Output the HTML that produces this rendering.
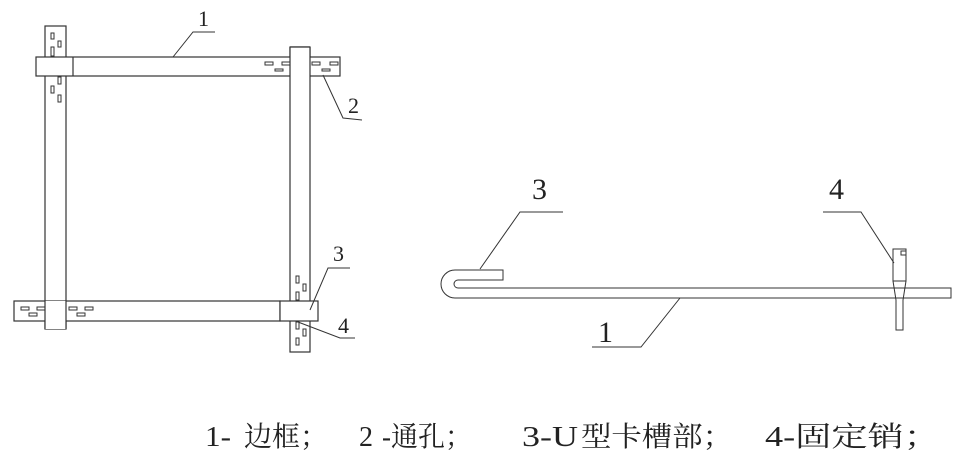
<!DOCTYPE html>
<html><head><meta charset="utf-8"><style>
html,body{margin:0;padding:0;background:#fff;width:969px;height:460px;overflow:hidden}
svg{display:block}
</style></head><body>
<svg width="969" height="460" viewBox="0 0 969 460" xmlns="http://www.w3.org/2000/svg">
<g fill="#fff" stroke="#333" stroke-width="1.2">
<rect x="45" y="26" width="21" height="303"/>
<rect x="36" y="57" width="304" height="19"/>
<line x1="73" y1="57" x2="73" y2="76"/>
<rect x="290" y="47" width="20" height="305"/>
<rect x="14" y="301" width="266" height="20"/>
<rect x="45" y="301" width="21" height="28" stroke="none"/>
<line x1="45" y1="301" x2="45" y2="329"/><line x1="66" y1="301" x2="66" y2="329"/>
<rect x="280" y="301" width="38" height="20"/>
<rect x="290" y="47" width="20" height="10" stroke="none"/>
<line x1="290" y1="47" x2="290" y2="57"/><line x1="310" y1="47" x2="310" y2="57"/>
<line x1="290" y1="47" x2="310" y2="47"/>
</g>
<g fill="none" stroke="#333" stroke-width="1">
<rect x="51" y="33" width="3" height="6"/><rect x="58" y="41" width="3" height="6"/><rect x="51" y="47" width="3" height="9"/>
<rect x="58" y="77" width="3" height="7"/><rect x="51" y="86" width="3" height="7"/><rect x="58" y="95" width="3" height="7"/>
<rect x="265" y="62" width="8" height="3"/><rect x="282" y="62" width="8" height="3"/><rect x="275" y="69" width="8" height="2"/>
<rect x="312" y="62" width="8" height="3"/><rect x="330" y="62" width="8" height="3"/><rect x="322" y="69" width="8" height="2"/>
<rect x="21" y="307" width="8" height="3"/><rect x="37" y="307" width="8" height="3"/><rect x="29" y="313" width="8" height="3"/>
<rect x="69" y="307" width="8" height="3"/><rect x="85" y="307" width="8" height="3"/><rect x="77" y="313" width="8" height="3"/>
<rect x="296" y="276" width="3" height="7"/><rect x="303" y="284" width="3" height="7"/><rect x="296" y="292" width="3" height="8"/>
<rect x="296" y="322" width="3" height="7"/><rect x="303" y="329" width="3" height="7"/><rect x="296" y="338" width="3" height="7"/>
<polyline points="173,57 193,32 215,32"/>
<polyline points="323,75 343,118 362,120"/>
<polyline points="310,310 328,268 350,268"/>
<polyline points="298,322 340,338 355,338"/>
<path d="M503,270 L455,270 A14,14 0 0 0 455,298 L951,298 L951,288 L458,288 A4,4 0 0 1 458,280 L503,280 Z"/>
<rect x="893" y="249" width="13" height="32" fill="#fff"/>
<polyline points="893,281 896,300 896,330 903,330 903,300 906,281"/>
<rect x="901" y="251" width="5" height="4"/>
<polyline points="480,269 520,212 563,212"/>
<polyline points="894,263 861,212 823,212"/>
<polyline points="680,298 641,347 592,347"/>
</g>
<g font-family="Liberation Serif, serif" font-size="22" fill="#222">
<text x="198" y="26">1</text>
<text x="348" y="113">2</text>
<text x="333" y="261">3</text>
<text x="338" y="333">4</text>
<text x="532" y="199" font-size="30">3</text>
<text x="829" y="199" font-size="30">4</text>
<text x="598" y="342" font-size="30">1</text>
</g>
<g font-family="'Liberation Serif','Noto Serif CJK SC',serif" font-size="28" fill="#222">
<text x="205" y="446" textLength="26" lengthAdjust="spacingAndGlyphs">1-</text>
<text x="244" y="446" textLength="84" lengthAdjust="spacingAndGlyphs">边框；</text>
<text x="359" y="446" textLength="14" lengthAdjust="spacingAndGlyphs">2</text>
<text x="382" y="446" textLength="90" lengthAdjust="spacingAndGlyphs">-通孔；</text>
<text x="522" y="446" textLength="56" lengthAdjust="spacingAndGlyphs">3-U</text>
<text x="581" y="446" textLength="152" lengthAdjust="spacingAndGlyphs">型卡槽部；</text>
<text x="765" y="446" textLength="175" lengthAdjust="spacingAndGlyphs">4-固定销；</text>
</g>
</svg>
</body></html>
